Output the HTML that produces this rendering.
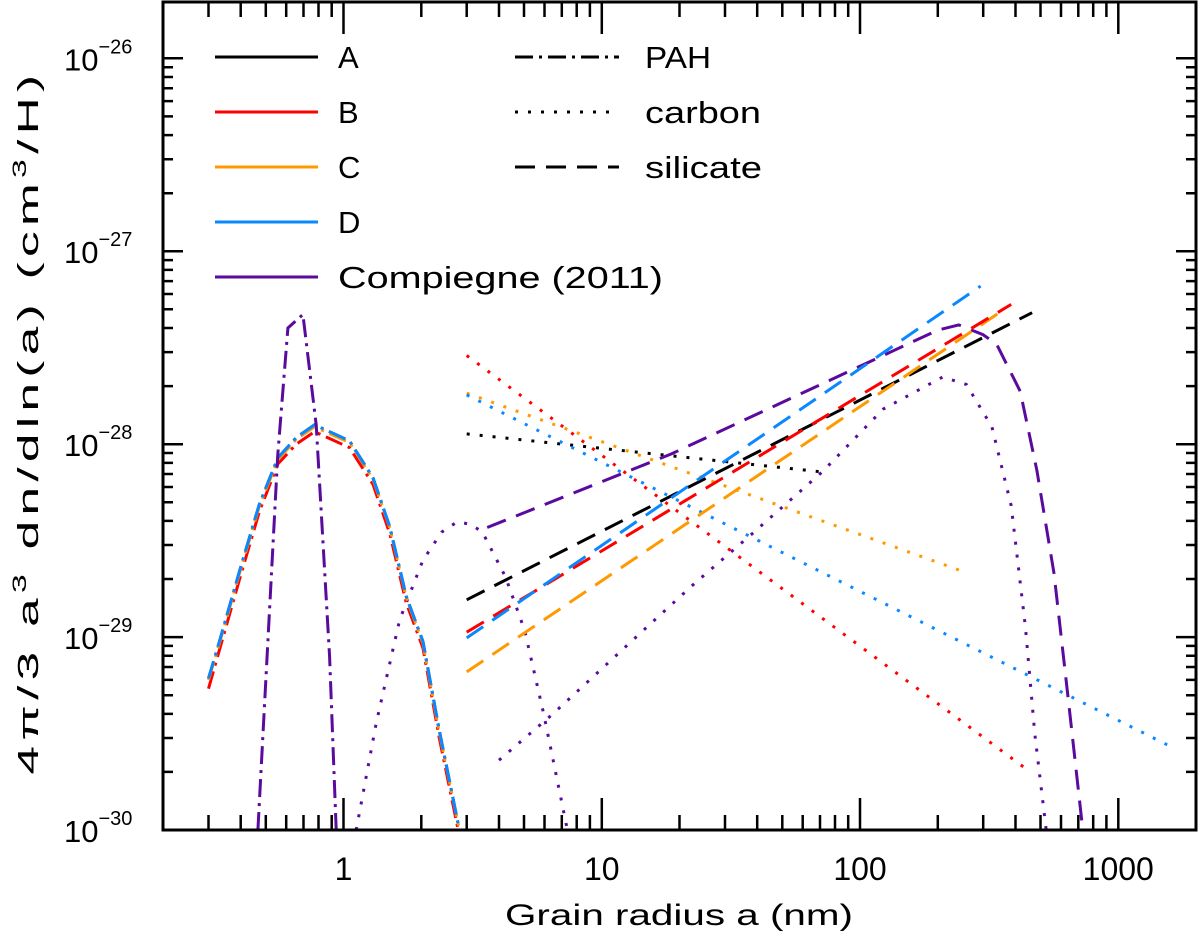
<!DOCTYPE html>
<html><head><meta charset="utf-8"><style>
html,body{margin:0;padding:0;background:#fff;}
svg{display:block;font-family:"Liberation Sans","DejaVu Sans",sans-serif;}
</style></head><body>
<svg id="chart" width="1200" height="935" viewBox="0 0 1200 935" xmlns="http://www.w3.org/2000/svg">
<g id="series"></g>
<g id="axes"></g>
<text x="679" y="925" font-size="30" text-anchor="middle" textLength="348" lengthAdjust="spacingAndGlyphs">Grain radius a (nm)</text>
<text transform="translate(38,422) rotate(-90)" font-size="29" letter-spacing="3" text-anchor="middle" textLength="705" lengthAdjust="spacingAndGlyphs">4π/3 a<tspan dy="-12" font-size="19">3</tspan><tspan dy="12"> dn/dln(a) (cm</tspan><tspan dy="-12" font-size="19">3</tspan><tspan dy="12">/H)</tspan></text>
<g id="legend"></g>
</svg>
<script>
// ---------- data ----------
const xTickValues = [1, 10, 100, 1000];
const xTickLabels = ["1", "10", "100", "1000"];
const yTickExps = [-26, -27, -28, -29, -30];
const yTickLabels = ["−26", "−27", "−28", "−29", "−30"];

// PAH (dash-dot) small-grain bumps
const pahA_x = [0.30, 0.331, 0.396, 0.473, 0.557, 0.656, 0.772, 1.055, 1.30, 1.51, 1.75, 2.03, 2.35, 2.81];
const pahA_y = [6.1e-30, 9.5e-30, 2.2e-29, 4.9e-29, 8.5e-29, 1.08e-28, 1.26e-28, 1.04e-28, 6.7e-29, 3.74e-29, 1.62e-29, 9.5e-30, 3.27e-30, 1.0e-30];
const pahB_x = [0.30, 0.331, 0.396, 0.473, 0.557, 0.656, 0.772, 1.055, 1.30, 1.51, 1.75, 2.03, 2.35, 2.78];
const pahB_y = [5.4e-30, 8.6e-30, 2.0e-29, 4.5e-29, 7.9e-29, 1.0e-28, 1.16e-28, 9.6e-29, 6.2e-29, 3.45e-29, 1.5e-29, 8.8e-30, 3.0e-30, 1.0e-30];
const pahC_y = [6.0e-30, 9.3e-30, 2.15e-29, 4.8e-29, 8.3e-29, 1.06e-28, 1.23e-28, 1.02e-28, 6.6e-29, 3.7e-29, 1.6e-29, 9.3e-30, 3.2e-30, 1.0e-30];
const pahD_y = [6.1e-30, 9.5e-30, 2.2e-29, 4.9e-29, 8.5e-29, 1.08e-28, 1.26e-28, 1.04e-28, 6.7e-29, 3.74e-29, 1.62e-29, 9.5e-30, 3.27e-30, 1.0e-30];
const pahComp_x = [0.466, 0.556, 0.609, 0.696, 0.784, 0.883, 0.937];
const pahComp_y = [1.0e-30, 8.7e-29, 4.0e-28, 4.7e-28, 1.26e-28, 7.9e-30, 1.0e-30];

// carbon (dotted)
const carbA_x = [3.0, 70];   const carbA_y = [1.13e-28, 7.2e-29];
const carbB_x = [3.0, 456];  const carbB_y = [2.88e-28, 2.0e-30];
const carbC_x = [3.0, 262];  const carbC_y = [1.84e-28, 2.14e-29];
const carbD_x = [3.0, 1550]; const carbD_y = [1.8e-28, 2.76e-30];
const carbCompSmall_x = [1.12, 1.34, 1.65, 2.03, 2.40, 2.75, 3.10, 3.45, 4.24, 5.03, 5.96, 7.36];
const carbCompSmall_y = [1.0e-30, 3.6e-30, 1.23e-29, 2.5e-29, 3.5e-29, 3.95e-29, 3.85e-29, 3.5e-29, 2.05e-29, 1.08e-29, 4.0e-30, 1.0e-30];
const carbCompBig_x = [4.0, 6.47, 15.0, 22.9, 37.9, 71.5, 123, 209, 258, 324, 385, 437, 475, 526];
const carbCompBig_y = [2.3e-30, 4.0e-30, 1.13e-29, 1.9e-29, 3.4e-29, 7.2e-29, 1.52e-28, 2.23e-28, 2.04e-28, 1.23e-28, 4.8e-29, 1.13e-29, 3.15e-30, 1.0e-30];

// silicate (dashed)
const silA_x = [3.0, 464]; const silA_y = [1.56e-29, 4.8e-28];
const silB_x = [3.0, 385]; const silB_y = [1.06e-29, 5.3e-28];
const silC_x = [3.0, 354]; const silC_y = [6.6e-30, 4.9e-28];
const silD_x = [3.0, 293]; const silD_y = [9.9e-30, 6.6e-28];
const silComp_x = [3.6, 18.6, 200, 241, 299, 338, 417, 484, 564, 640, 729];
const silComp_y = [3.7e-29, 8.9e-29, 3.9e-28, 4.15e-28, 3.7e-28, 3.3e-28, 1.88e-28, 7.3e-29, 2.14e-29, 4.8e-30, 1.0e-30];

// ---------- scales ----------
const PL = 163, PR = 1196, PT = 2, PB = 830;
const XMIN = Math.log10(0.2), XMAX = Math.log10(2000);
const YMIN = -30, YMAX = -25.708;
function sx(v){ return PL + (Math.log10(v) - XMIN) / (XMAX - XMIN) * (PR - PL); }
function sy(v){ return PB - (Math.log10(v) - YMIN) / (YMAX - YMIN) * (PB - PT); }

const NS = "http://www.w3.org/2000/svg";
const C = {A:"#000000", B:"#ff0000", C:"#ff9900", D:"#0a88ff", P:"#5b0a9e"};
const STY = {
  pah: "18 6 3 6",
  carbon: "3 10",
  silicate: "20 11"
};
const series = document.getElementById("series");
function drawLine(xs, ys, color, style, name){
  const p = document.createElementNS(NS, "path");
  let d = "";
  for (let i = 0; i < xs.length; i++) d += (i ? "L" : "M") + sx(xs[i]).toFixed(1) + " " + sy(ys[i]).toFixed(1);
  p.setAttribute("d", d);
  p.setAttribute("fill", "none");
  p.setAttribute("stroke", color);
  p.setAttribute("stroke-width", "3");
  p.setAttribute("stroke-dasharray", STY[style]);
  
  
  series.appendChild(p);
}
drawLine(carbA_x, carbA_y, C.A, "carbon", "carbon-a");
drawLine(carbB_x, carbB_y, C.B, "carbon", "carbon-b");
drawLine(carbC_x, carbC_y, C.C, "carbon", "carbon-c");
drawLine(carbD_x, carbD_y, C.D, "carbon", "carbon-d");
drawLine(carbCompSmall_x, carbCompSmall_y, C.P, "carbon", "carbon-compiegne-small");
drawLine(carbCompBig_x, carbCompBig_y, C.P, "carbon", "carbon-compiegne-big");
drawLine(silComp_x, silComp_y, C.P, "silicate", "silicate-compiegne");
drawLine(silA_x, silA_y, C.A, "silicate", "silicate-a");
drawLine(silC_x, silC_y, C.C, "silicate", "silicate-c");
drawLine(silB_x, silB_y, C.B, "silicate", "silicate-b");
drawLine(silD_x, silD_y, C.D, "silicate", "silicate-d");
drawLine(pahA_x, pahA_y, C.A, "pah", "pah-a");
drawLine(pahB_x, pahB_y, C.B, "pah", "pah-b");
drawLine(pahA_x, pahC_y, C.C, "pah", "pah-c");
drawLine(pahA_x, pahD_y, C.D, "pah", "pah-d");
drawLine(pahComp_x, pahComp_y, C.P, "pah", "pah-compiegne");

// ---------- axes ----------
const axes = document.getElementById("axes");
function mk(tag, attrs){ const e = document.createElementNS(NS, tag); for (const k in attrs) e.setAttribute(k, attrs[k]); axes.appendChild(e); return e; }
const frame = mk("rect", {x:PL, y:PT, width:PR-PL, height:PB-PT, fill:"none", stroke:"#000", "stroke-width":"3"});


let tk = "";
for (let e = -1; e <= 3; e++) for (let m = 1; m <= 9; m++) {
  const v = m * Math.pow(10, e);
  if (v < 0.2 || v > 2000) continue;
  const x = sx(v), L = (m === 1) ? 32 : 15;
  tk += `M${x.toFixed(1)} ${PB}v${-L}M${x.toFixed(1)} ${PT}v${L}`;
}
for (let e = -30; e <= -26; e++) for (let m = 1; m <= 9; m++) {
  const v = m * Math.pow(10, e);
  if (Math.log10(v) > YMAX) continue;
  const y = sy(v), L = (m === 1) ? 20 : 10;
  tk += `M${PL} ${y.toFixed(1)}h${L}M${PR} ${y.toFixed(1)}h${-L}`;
}
const ticks = mk("path", {d:tk, stroke:"#000", "stroke-width":"2.5", fill:"none"});


xTickValues.forEach((v, i) => {
  const t = mk("text", {x:sx(v), y:880, "font-size":"32", "text-anchor":"middle"});
  t.textContent = xTickLabels[i];
  
  
});
yTickExps.forEach((e, i) => {
  const y = sy(Math.pow(10, e));
  const t = mk("text", {x:64, y:y+12, "font-size":"31"});
  t.innerHTML = `10<tspan dy="-17" font-size="20">${yTickLabels[i]}</tspan>`;
  
  
});

// ---------- legend ----------
const lg = document.getElementById("legend");
const legL = [["A", C.A, 57, 0], ["B", C.B, 112, 0], ["C", C.C, 167, 0], ["D", C.D, 222, 0], ["Compiegne (2011)", C.P, 277, 325]];
legL.forEach(([lab, col, y, w]) => {
  const g = document.createElementNS(NS, "g");
  
  
  const tl = w ? ` textLength="${w}" lengthAdjust="spacingAndGlyphs"` : "";
  g.innerHTML = `<line x1="215" x2="318" y1="${y}" y2="${y}" stroke="${col}" stroke-width="3"/><text x="338" y="${y+11}" font-size="31"${tl}>${lab}</text>`;
  lg.appendChild(g);
});
const legR = [["PAH", "pah", 57, 66], ["carbon", "carbon", 112, 116], ["silicate", "silicate", 167, 117]];
legR.forEach(([lab, st, y, w]) => {
  const g = document.createElementNS(NS, "g");
  
  
  g.innerHTML = `<line x1="515" x2="619" y1="${y}" y2="${y}" stroke="#000" stroke-width="3" stroke-dasharray="${STY[st]}"/><text x="645" y="${y+11}" font-size="31" textLength="${w}" lengthAdjust="spacingAndGlyphs">${lab}</text>`;
  lg.appendChild(g);
});
</script>
</body></html>
